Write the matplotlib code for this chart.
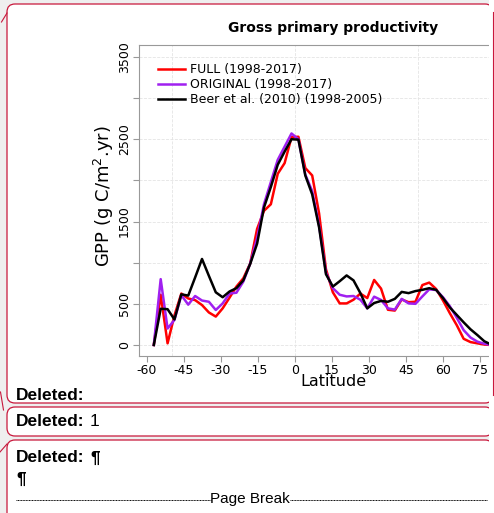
import matplotlib
matplotlib.use("Agg")
import matplotlib.pyplot as plt
from matplotlib.patches import FancyBboxPatch, Rectangle
from matplotlib.lines import Line2D
from matplotlib.transforms import IdentityTransform

W, H = 494, 513

plt.rcParams['axes.unicode_minus'] = False

# zonal means on the T42 gaussian latitudes
lat = [-57.2, -54.41, -51.62, -48.83, -46.04, -43.25, -40.46, -37.67, -34.88, -32.09,
       -29.3, -26.51, -23.72, -20.93, -18.14, -15.35, -12.56, -9.77, -6.98, -4.19, -1.4,
       1.4, 4.19, 6.98, 9.77, 12.56, 15.35, 18.14, 20.93, 23.72, 26.51, 29.3, 32.09,
       34.88, 37.67, 40.46, 43.25, 46.04, 48.83, 51.62, 54.41, 57.2, 59.99, 62.78,
       65.57, 68.36, 71.15, 73.94, 76.73, 79.52, 82.31]

gpp_full = [0, 610, 20, 360, 625, 565, 545, 485, 395, 345,
            445, 575, 710, 810, 990, 1410, 1630, 1710, 2080, 2210, 2525,
            2530, 2150, 2060, 1600, 920, 640, 505, 505, 550, 625, 570, 790,
            685, 428, 418, 553, 520, 525, 728, 758, 680, 540, 385,
            240, 75, 35, 20, 5, 0, 0]

gpp_original = [0, 800, 200, 305, 605, 490, 595, 540, 525, 425,
                505, 625, 635, 770, 990, 1300, 1710, 1980, 2250, 2410, 2570,
                2500, 2070, 1870, 1450, 880, 690, 610, 590, 595, 550, 445, 587,
                547, 445, 430, 560, 505, 500, 590, 676, 668, 580, 470,
                330, 180, 90, 40, 15, 0, 0]

gpp_beer = [0, 440, 435, 310, 615, 600, 820, 1045, 840, 640,
            580, 650, 690, 785, 985, 1230, 1670, 1920, 2190, 2350, 2500,
            2495, 2060, 1830, 1430, 860, 710, 775, 845, 785, 630, 445, 510,
            535, 525, 560, 645, 630, 655, 670, 690, 670, 570, 455,
            365, 275, 190, 120, 45, 5, 0]

series = [gpp_full, gpp_original, gpp_beer]
labels = ['FULL (1998-2017)', 'ORIGINAL (1998-2017)', 'Beer et al. (2010) (1998-2005)']
colors = ['#ff0000', '#a020f0', '#000000']

xticks = list(range(-60, 91, 15))
yticks = list(range(0, 3501, 500))
ytick_labels = ['0', '500', '', '1500', '', '2500', '', '3500']
grid_lat = [-50, 0, 50]

BORDER = '#c8183c'


def fy(y):
    # pixel row measured from the top -> display y
    return H - y


fig = plt.figure(figsize=(W / 100, H / 100), dpi=100)
fig.patch.set_facecolor('#efefef')

# comment balloons
for (x0, y0, x1, y1) in [(7, 4, 493, 403), (7, 407, 493, 436), (7, 440, 493, 530)]:
    fig.patches.append(FancyBboxPatch((x0, fy(y1)), x1 - x0, y1 - y0,
                                      boxstyle='round,pad=0,rounding_size=8',
                                      transform=IdentityTransform(), facecolor='white',
                                      edgecolor=BORDER, lw=0.9, zorder=-2))

# connector strokes on the left margin
for xs, ys in [([1.5, 7], [22, 13]), ([0.5, 3.5], [392, 410]), ([0, 7], [452, 444])]:
    fig.lines.append(Line2D(xs, [fy(v) for v in ys], transform=IdentityTransform(),
                            color=BORDER, lw=0.8, zorder=-1))

# chart
ax = fig.add_axes([139 / W, 1 - 356 / H, (522 - 139) / W, (356 - 45) / H])
ax.set_facecolor('white')
for s, lab, c in zip(series, labels, colors):
    ax.plot(lat, s, color=c, lw=1.8, label=lab)

ax.set_xlim(-63.2, 92)
ax.set_ylim(-134, 3645)
ax.set_xticks(xticks)
ax.set_yticks(yticks)
ax.set_yticklabels(ytick_labels, rotation=90, va='center')
ax.tick_params(axis='both', direction='out', length=4, width=0.8, color='#999999',
               labelsize=9, pad=2)
ax.grid(axis='y', color='#e4e4e4', ls='--', lw=0.6)
for g in grid_lat:
    ax.axvline(g, color='#e4e4e4', ls='--', lw=0.6, zorder=0)
for sp in ax.spines.values():
    sp.set_color('#999999')
    sp.set_linewidth(0.8)

ax.legend(loc='upper left', bbox_to_anchor=(0.02, 0.977), frameon=False, fontsize=9,
          handlelength=2.2, handletextpad=0.4, labelspacing=0.15, borderaxespad=0.5)

fig.text(333 / W, 1 - 28 / H, 'Gross primary productivity', ha='center', va='center',
         fontsize=10, fontweight='bold')
fig.text(333 / W, 1 - 382 / H, 'Latitude', ha='center', va='center', fontsize=11.5)
fig.text(104 / W, 1 - 196 / H, 'GPP (g C/m$^2$.yr)', ha='center', va='center',
         rotation=90, fontsize=13)

# right edge of the balloon cuts the chart
fig.patches.append(Rectangle((489, 0), 10, H, transform=IdentityTransform(),
                             facecolor='white', edgecolor='none', zorder=5))
fig.lines.append(Line2D([493, 493], [fy(12), fy(395)], transform=IdentityTransform(),
                        color=BORDER, lw=0.8, zorder=6))

# balloon texts
cf = 'Liberation Sans'
fs = 12.5
fig.text(16 / W, 1 - 395 / H, 'Deleted:', fontfamily=cf, fontweight='bold', fontsize=fs,
         va='center')
fig.text(16 / W, 1 - 421 / H, 'Deleted:', fontfamily=cf, fontweight='bold', fontsize=fs,
         va='center')
fig.text(90 / W, 1 - 421 / H, '1', fontfamily=cf, fontsize=fs, va='center')
fig.text(16 / W, 1 - 458 / H, 'Deleted:', fontfamily=cf, fontweight='bold', fontsize=fs,
         va='center')
fig.text(90 / W, 1 - 458 / H, '\u00b6', fontfamily=cf, fontweight='bold', fontsize=fs,
         va='center')
fig.text(16 / W, 1 - 479 / H, '\u00b6', fontfamily=cf, fontweight='bold', fontsize=fs,
         va='center')
fig.text(250 / W, 1 - 499 / H, 'Page Break', fontfamily=cf, fontsize=11,
         ha='center', va='center')
for xs in ([16, 211], [290, 487]):
    fig.lines.append(Line2D(xs, [fy(500), fy(500)], transform=IdentityTransform(),
                            color='black', lw=0.7, ls=(0, (1, 0.6))))

fig.savefig('out.png', dpi=100, facecolor=fig.get_facecolor())
